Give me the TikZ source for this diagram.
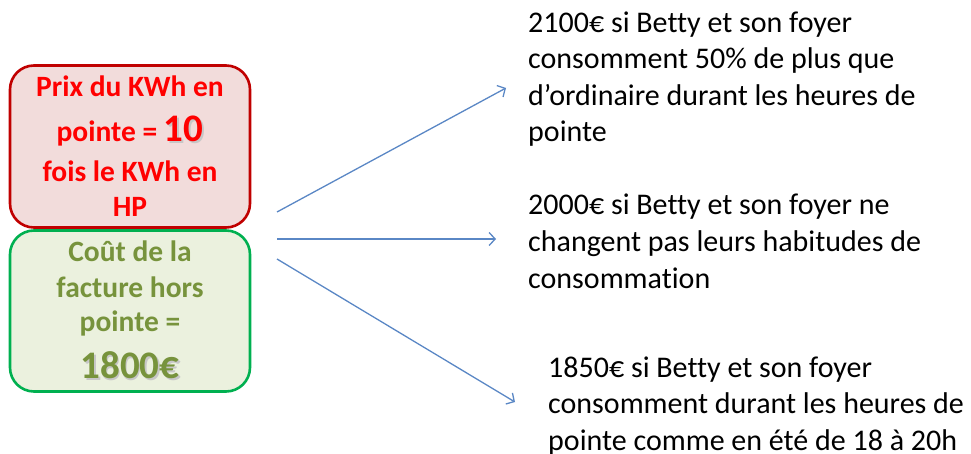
\documentclass[tikz,border=0pt]{standalone}
\usepackage{fontspec}
\setmainfont{Carlito}[Ligatures=NoCommon]
\usetikzlibrary{arrows.meta}
\definecolor{redborder}{HTML}{C00000}
\definecolor{redfill}{HTML}{F2DCDB}
\definecolor{greenborder}{HTML}{00B050}
\definecolor{greenfill}{HTML}{EBF1DE}
\definecolor{greentext}{HTML}{77933C}
\definecolor{arrowblue}{HTML}{5A87C5}
\newcommand{\shadowtxt}[1]{\makebox{\rlap{\raisebox{-1.5pt}{\hspace{1.5pt}\textcolor{black!22}{#1}}}#1}}
\tikzset{
  box/.style={draw, line width=2.6pt, rounded corners=24pt, minimum width=240pt, align=center, inner sep=0pt,
    font=\fontsize{29.5}{38}\selectfont\bfseries},
  redbox/.style={box, draw=redborder, fill=redfill, text=red, minimum height=162pt},
  greenbox/.style={box, draw=greenborder, fill=greenfill, text=greentext, minimum height=161pt},
  desc/.style={anchor=base west, align=left, inner sep=0pt, font=\fontsize{30}{36.5}\selectfont, text=black},
  arr/.style={draw=arrowblue, line width=1.3pt, -{Straight Barb[length=6pt,width=13pt,line width=1.3pt]}}
}
\begin{document}
\begin{tikzpicture}[x=1pt,y=1pt]
\useasboundingbox (0,0) rectangle (971,453);
\node[redbox] (prix) at (130,306.5) {Prix du KWh en\\[7pt] pointe = {\fontsize{39}{40}\selectfont\shadowtxt{10}}\\[2pt] fois le KWh en\\[-3pt] HP};
\node[greenbox] (cout) at (130,142) {Coût de la\\[-2pt] facture hors\\[-4pt] pointe =\\[9pt] {\fontsize{39}{40}\selectfont\shadowtxt{1800€}}};
\node[desc] (t1) at (528,311) {2100€ si Betty et son foyer\\ consomment 50\% de plus que\\ d’ordinaire durant les heures de\\ pointe};
\node[desc] (t2) at (528,165) {2000€ si Betty et son foyer ne\\ changent pas leurs habitudes de\\ consommation};
\node[desc] (t3) at (548,3) {1850€ si Betty et son foyer\\ consomment durant les heures de\\ pointe comme en été de 18 à 20h};
\coordinate (s1) at (277,241);
\coordinate (s2) at (277,214);
\coordinate (s3) at (277,194);
\coordinate (e1) at (506,365);
\coordinate (e2) at (496,214);
\coordinate (e3) at (515,51);
\draw[arr] (s1) -- (e1);
\draw[arr] (s2) -- (e2);
\draw[arr] (s3) -- (e3);
\end{tikzpicture}
\end{document}
